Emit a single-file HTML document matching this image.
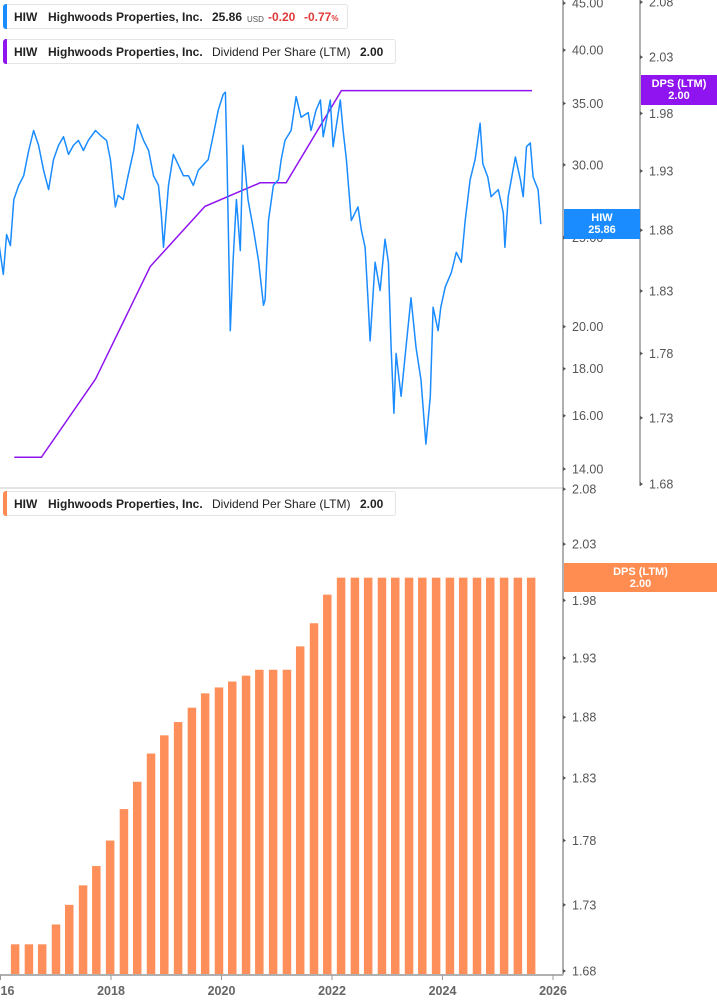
<!DOCTYPE html>
<html><head><meta charset="utf-8">
<style>
html,body{margin:0;padding:0;background:#fff;}
body{width:717px;height:1005px;overflow:hidden;position:relative;font-family:"Liberation Sans",sans-serif;}
svg{position:absolute;left:0;top:0;}
.leg{position:absolute;left:3px;height:25px;border:1px solid #e4e4e4;border-radius:3px;background:#fff;font-size:12px;line-height:25px;color:#222;white-space:nowrap;box-sizing:border-box;}
.leg .bar{position:absolute;left:-1px;top:-1px;bottom:-1px;width:4px;border-radius:3px 0 0 3px;}
.leg span{position:absolute;top:0;}
.b{font-weight:bold;}
</style></head>
<body>
<svg id="chart" width="717" height="1005"></svg>

<div class="leg" style="top:4px;width:345px;">
  <div class="bar" style="background:#1a8cff"></div>
  <span class="b" style="left:10px">HIW</span>
  <span class="b" style="left:44px">Highwoods Properties, Inc.</span>
  <span class="b" style="left:208px">25.86</span>
  <span style="left:243px;font-size:8px;color:#555;top:2px">USD</span>
  <span class="b" style="left:264px;color:#e03a3a">-0.20</span>
  <span class="b" style="left:300px;color:#e03a3a">-0.77<small style="font-size:8px">%</small></span>
</div>
<div class="leg" style="top:39px;width:393px;">
  <div class="bar" style="background:#8f14f0"></div>
  <span class="b" style="left:10px">HIW</span>
  <span class="b" style="left:44px">Highwoods Properties, Inc.</span>
  <span style="left:208px">Dividend Per Share (LTM)</span>
  <span class="b" style="left:356px">2.00</span>
</div>
<div class="leg" style="top:491px;width:393px;">
  <div class="bar" style="background:#ff8c55"></div>
  <span class="b" style="left:10px">HIW</span>
  <span class="b" style="left:44px">Highwoods Properties, Inc.</span>
  <span style="left:208px">Dividend Per Share (LTM)</span>
  <span class="b" style="left:356px">2.00</span>
</div>

<script>
const priceDates=[2015.96,2016.05,2016.11,2016.18,2016.24,2016.33,2016.42,2016.51,2016.60,2016.69,2016.78,2016.87,2016.96,2017.05,2017.14,2017.23,2017.32,2017.41,2017.50,2017.59,2017.72,2017.81,2017.92,2017.99,2018.08,2018.13,2018.22,2018.31,2018.41,2018.48,2018.59,2018.68,2018.77,2018.86,2018.91,2018.95,2019.04,2019.13,2019.22,2019.31,2019.40,2019.49,2019.58,2019.67,2019.76,2019.85,2019.94,2020.03,2020.07,2020.10,2020.16,2020.21,2020.27,2020.34,2020.39,2020.48,2020.58,2020.67,2020.76,2020.79,2020.85,2020.94,2021.03,2021.08,2021.15,2021.26,2021.35,2021.44,2021.57,2021.62,2021.71,2021.79,2021.84,2021.97,2022.02,2022.15,2022.20,2022.26,2022.35,2022.47,2022.53,2022.60,2022.65,2022.69,2022.78,2022.87,2022.96,2023.02,2023.07,2023.12,2023.16,2023.25,2023.34,2023.43,2023.52,2023.61,2023.70,2023.78,2023.83,2023.92,2023.97,2024.05,2024.16,2024.25,2024.34,2024.41,2024.50,2024.59,2024.68,2024.73,2024.82,2024.88,2025.01,2025.10,2025.13,2025.19,2025.32,2025.41,2025.46,2025.52,2025.59,2025.64,2025.73,2025.78];
const prices=[24.9,22.8,25.2,24.5,27.5,28.5,29.2,31.1,32.7,31.5,29.6,28.2,30.4,31.5,32.2,30.8,31.5,31.9,31.1,31.9,32.7,32.3,31.9,30.4,27.0,27.8,27.5,29.2,31.1,33.2,31.9,31.1,29.2,28.5,26.5,24.4,28.5,30.8,30.0,29.2,29.2,28.5,29.6,30.0,30.4,32.3,34.4,35.8,36.0,30.4,19.8,23.6,27.5,24.2,31.5,27.5,25.5,23.6,21.1,21.4,26.1,28.5,28.9,30.4,31.9,32.7,35.6,33.8,34.2,32.7,34.4,35.3,32.2,35.3,31.4,35.3,32.7,30.4,26.1,27.0,25.5,24.4,21.5,19.3,23.5,21.9,24.9,23.5,19.0,16.1,18.7,16.8,19.0,21.5,19.0,17.5,14.9,16.8,21.0,19.8,21.0,22.1,22.9,24.1,23.5,26.1,28.9,30.4,33.3,30.1,29.1,27.7,28.2,26.6,24.4,27.7,30.6,28.9,27.7,31.4,31.7,29.1,28.2,25.86];
const dpsLineDates=[2016.25,2016.74,2017.72,2018.71,2019.70,2020.70,2021.17,2022.17,2025.62];
const dpsLineValues=[1.70,1.70,1.76,1.85,1.90,1.92,1.92,2.00,2.00];
const barDates=[2016.26,2016.51,2016.75,2017.00,2017.24,2017.49,2017.73,2017.98,2018.23,2018.47,2018.72,2018.96,2019.21,2019.46,2019.70,2019.95,2020.19,2020.44,2020.68,2020.93,2021.18,2021.42,2021.67,2021.91,2022.16,2022.41,2022.65,2022.90,2023.14,2023.39,2023.63,2023.88,2024.13,2024.37,2024.62,2024.86,2025.11,2025.36,2025.60];
const barValues=[1.70,1.70,1.70,1.715,1.73,1.745,1.76,1.78,1.805,1.827,1.85,1.865,1.876,1.888,1.90,1.905,1.91,1.915,1.92,1.92,1.92,1.94,1.96,1.985,2.00,2.00,2.00,2.00,2.00,2.00,2.00,2.00,2.00,2.00,2.00,2.00,2.00,2.00,2.00];
const priceTicks=[14,16,18,20,25,30,35,40,45];
const dpsTicks=[1.68,1.73,1.78,1.83,1.88,1.93,1.98,2.03,2.08];
const yearTicks=[2016,2018,2020,2022,2024,2026];

const NS='http://www.w3.org/2000/svg';
const svg=document.getElementById('chart');
function mk(tag,attrs,parent){const e=document.createElementNS(NS,tag);for(const k in attrs)e.setAttribute(k,attrs[k]);(parent||svg).appendChild(e);return e;}
const xS=t=>0.5+(t-2016)*55.25;
const yPrice=p=>469-399*Math.log(p/14);
const yDpsTop=v=>484-2256*Math.log(v/1.68);
const yDpsBot=v=>971-2256*Math.log(v/1.68);

let e;
e=mk('line',{x1:0,y1:488,x2:563,y2:488,stroke:'#dcdcdc','stroke-width':1.5});


e=mk('line',{x1:563,y1:0,x2:563,y2:975,stroke:'#b0b0b0','stroke-width':2});


e=mk('line',{x1:640,y1:0,x2:640,y2:486,stroke:'#b0b0b0','stroke-width':2});


e=mk('line',{x1:0,y1:975,x2:563,y2:975,stroke:'#b0b0b0','stroke-width':2});



function tick(x,y,label,name){
  const t=mk('path',{d:`M${x} ${y-2}L${x+3} ${y}L${x} ${y+2}Z`,fill:'#555'});
  
  
  const tx=mk('text',{x:x+9,y:y+4.5,'font-size':12.5,fill:'#555','font-family':'Liberation Sans, sans-serif'});
  tx.textContent=label;
  
  
}
priceTicks.forEach(p=>tick(563,yPrice(p),p.toFixed(2),'price-tick-label'));
dpsTicks.forEach(v=>tick(640,yDpsTop(v),v.toFixed(2),'dps-top-tick-label'));
dpsTicks.forEach(v=>tick(563,yDpsBot(v),v.toFixed(2),'dps-bottom-tick-label'));
yearTicks.forEach(y=>{
  const x=xS(y);
  const l=mk('line',{x1:x,y1:975,x2:x,y2:980,stroke:'#999'});
  
  
  const tx=mk('text',{x:x,y:995,'font-size':12.5,'font-weight':'bold',fill:'#666','text-anchor':'middle','font-family':'Liberation Sans, sans-serif'});
  tx.textContent=y;
  
  
});

barDates.forEach((d,i)=>{
  const x=xS(d), y=yDpsBot(barValues[i]);
  const r=mk('rect',{x:x-4,y:y,width:8.5,height:974-y,fill:'#ff8f5a'});
  
  
});

e=mk('polyline',{points:dpsLineDates.map((d,i)=>xS(d)+','+yDpsTop(dpsLineValues[i])).join(' '),fill:'none',stroke:'#8f14f0','stroke-width':1.5});



e=mk('polyline',{points:priceDates.map((d,i)=>xS(d).toFixed(1)+','+yPrice(prices[i]).toFixed(1)).join(' '),fill:'none',stroke:'#1a8cff','stroke-width':1.5,'stroke-linejoin':'round'});



function badge(x,y,w,h,color,l1,l2,name){
  const g=mk('g',{});
  
  
  mk('rect',{x:x,y:y,width:w,height:h,fill:color},g);
  const a=mk('text',{x:x+w/2,y:y+12,'font-size':11,'font-weight':'bold',fill:'#fff','text-anchor':'middle','font-family':'Liberation Sans, sans-serif'},g);a.textContent=l1;
  const b=mk('text',{x:x+w/2,y:y+24,'font-size':11,'font-weight':'bold',fill:'#fff','text-anchor':'middle','font-family':'Liberation Sans, sans-serif'},g);b.textContent=l2;
}
badge(564,209,76,30,'#1a8cff','HIW',prices[prices.length-1].toFixed(2),'price-badge');
badge(641,75,76,30,'#8f14f0','DPS (LTM)',dpsLineValues[dpsLineValues.length-1].toFixed(2),'dps-top-badge');
badge(564,563,153,29,'#ff8c50','DPS (LTM)',barValues[barValues.length-1].toFixed(2),'dps-bottom-badge');
</script>
</body></html>
